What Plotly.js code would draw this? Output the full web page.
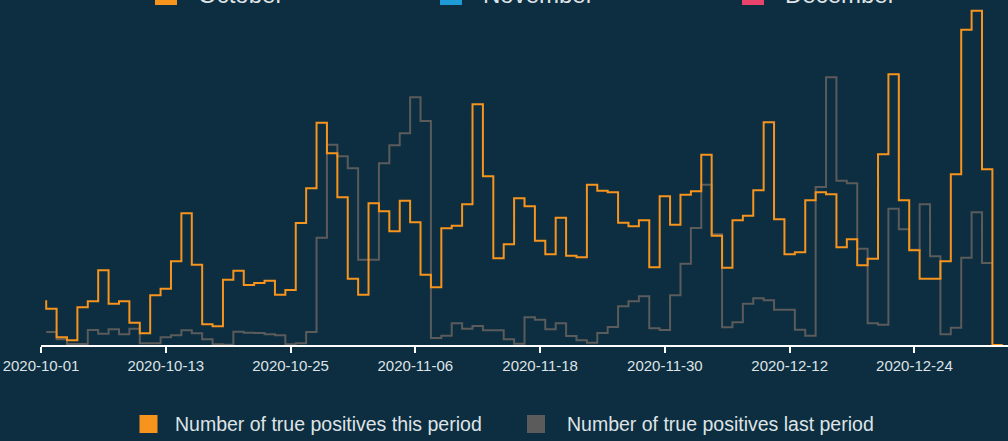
<!DOCTYPE html>
<html>
<head>
<meta charset="utf-8">
<script src="https://cdn.plot.ly/plotly-3.0.1.min.js"></script>
<style>
  html, body { margin: 0; padding: 0; background: #0c2e40; }
  #chart { width: 1008px; height: 441px; }
</style>
</head>
<body>
<div id="chart"></div>
<script>
// ---- data ----
const startDate = '2020-10-01';
const thisPeriodName = 'Number of true positives this period';
const lastPeriodName = 'Number of true positives last period';
const monthNames = ['October', 'November', 'December'];
const monthColors = ['#f7941d', '#1f9bd7', '#e8436b'];

const thisPeriod = [
  13.4, 10.9, 2.3, 1.4, 11.3, 13.1, 22.4, 12.4, 13.1, 6.7,
  3.5, 14.9, 16.9, 25.1, 39.5, 24.1, 6.2, 5.6, 19.6, 22.3,
  18.0, 18.6, 19.3, 15.1, 16.5, 36.6, 47.0, 66.7, 57.5, 44.3,
  19.9, 15.1, 42.5, 40.1, 34.1, 43.3, 36.8, 21.1, 17.3, 35.0,
  35.8, 42.2, 72.2, 50.6, 26.0, 30.2, 44.0, 41.6, 31.3, 27.2,
  38.2, 26.8, 26.3, 48.1, 46.3, 45.8, 36.7, 35.6, 37.4, 23.3,
  44.6, 36.1, 45.1, 46.1, 57.1, 32.8, 23.2, 37.4, 38.8, 46.4,
  66.8, 37.7, 27.2, 27.8, 43.4, 45.8, 45.2, 29.3, 31.7, 23.9,
  25.9, 57.2, 81.2, 43.4, 28.4, 19.9, 19.9, 25.1, 51.2, 94.6,
  100.3, 52.7, 0
];

const lastPeriod = [
  3.9, 3.9, 1.7, 0.3, 0.3, 4.5, 3.4, 4.7, 3.2, 4.9,
  0.5, 0.5, 2.3, 2.9, 4.4, 3.5, 1.7, 0.2, 0.1, 4.0,
  3.7, 3.6, 3.2, 2.9, 0.2, 0.5, 3.9, 32.2, 60.1, 56.6,
  53.0, 25.6, 25.6, 54.5, 59.9, 63.5, 74.3, 67.2, 2.1, 2.8,
  6.5, 4.9, 5.7, 4.4, 4.4, 1.7, 0.4, 8.3, 7.6, 4.7,
  6.5, 2.7, 1.4, 0.7, 3.6, 5.4, 11.6, 13.1, 14.6, 5.0,
  4.5, 14.9, 24.4, 35.1, 48.1, 33.2, 5.3, 6.8, 12.4, 14.0,
  13.4, 10.6, 10.6, 4.6, 2.8, 47.4, 80.3, 49.3, 48.5, 28.9,
  6.5, 6.1, 40.9, 34.7, 28.6, 42.2, 26.6, 3.2, 5.2, 26.2,
  39.8, 24.6
];

const tickStart = '2020-10-01';
const tickStepDays = 12;

// ---- helpers ----
function dayList(start, n) {
  const out = [];
  const d0 = new Date(start + 'T00:00:00Z');
  for (let i = 0; i < n; i++) {
    const d = new Date(d0.getTime() + i * 86400000);
    out.push(d.toISOString().slice(0, 10));
  }
  return out;
}

const W = 1008, H = 441;
const M = { l: 41, r: 0, t: 0, b: 96 };
const PW = W - M.l - M.r, PH = H - M.t - M.b;
const px = x => (x - M.l) / PW;
const py = y => (M.t + PH - y) / PH;

const orange = '#f7941d';
const grey = '#5b5b5b';
const textCol = '#dfe3e6';
const font = 'Liberation Sans, Arial, sans-serif';

const traces = [
  {
    type: 'scatter', mode: 'lines', name: lastPeriodName,
    x: dayList(startDate, lastPeriod.length), y: lastPeriod,
    xperiod: 86400000, xperiodalignment: 'middle',
    line: { shape: 'vh', color: grey, width: 2 },
    showlegend: false, hoverinfo: 'skip'
  },
  {
    type: 'scatter', mode: 'lines', name: thisPeriodName,
    x: dayList(startDate, thisPeriod.length), y: thisPeriod,
    xperiod: 86400000, xperiodalignment: 'middle',
    line: { shape: 'vh', color: orange, width: 2 },
    showlegend: false, hoverinfo: 'skip'
  }
];

const shapes = [];
const annotations = [];

// top legend (partly cut off at the top edge, as in the source)
const topSq = [155, 440, 742];
const topTx = [196, 481, 783];
monthNames.forEach((m, i) => {
  shapes.push({ type: 'rect', xref: 'paper', yref: 'paper',
    x0: px(topSq[i]), x1: px(topSq[i] + 22), y0: py(5), y1: py(-17),
    fillcolor: monthColors[i], line: { width: 0 } });
  annotations.push({ xref: 'paper', yref: 'paper', x: px(topTx[i]), y: py(-6),
    xanchor: 'left', yanchor: 'middle', showarrow: false, text: m,
    font: { family: font, size: 24, color: textCol } });
});

// bottom legend
const botItems = [
  { name: thisPeriodName, color: orange, sq: 139.5, tx: 173 },
  { name: lastPeriodName, color: grey, sq: 527, tx: 565 }
];
botItems.forEach(it => {
  shapes.push({ type: 'rect', xref: 'paper', yref: 'paper',
    x0: px(it.sq), x1: px(it.sq + 18), y0: py(433), y1: py(415),
    fillcolor: it.color, line: { width: 0 } });
  annotations.push({ xref: 'paper', yref: 'paper', x: px(it.tx), y: py(424),
    xanchor: 'left', yanchor: 'middle', showarrow: false, text: it.name,
    font: { family: font, size: 19.5, color: textCol } });
});

const layout = {
  width: W, height: H,
  margin: M,
  paper_bgcolor: '#0c2e40',
  plot_bgcolor: '#0c2e40',
  showlegend: false,
  xaxis: {
    type: 'date',
    range: ['2020-10-01', '2021-01-02'],
    tick0: tickStart, dtick: tickStepDays * 86400000,
    tickformat: '%Y-%m-%d',
    showgrid: false, zeroline: false,
    showline: true, linecolor: '#ffffff', linewidth: 2,
    ticks: 'outside', ticklen: 6, tickwidth: 2, tickcolor: '#ffffff',
    tickfont: { family: font, size: 15, color: textCol },
    automargin: false, fixedrange: true
  },
  yaxis: {
    range: [0, 103.5],
    visible: false, showgrid: false, zeroline: false, fixedrange: true
  },
  shapes: shapes,
  annotations: annotations
};

Plotly.newPlot('chart', traces, layout, { staticPlot: true, displayModeBar: false });
</script>
</body>
</html>
